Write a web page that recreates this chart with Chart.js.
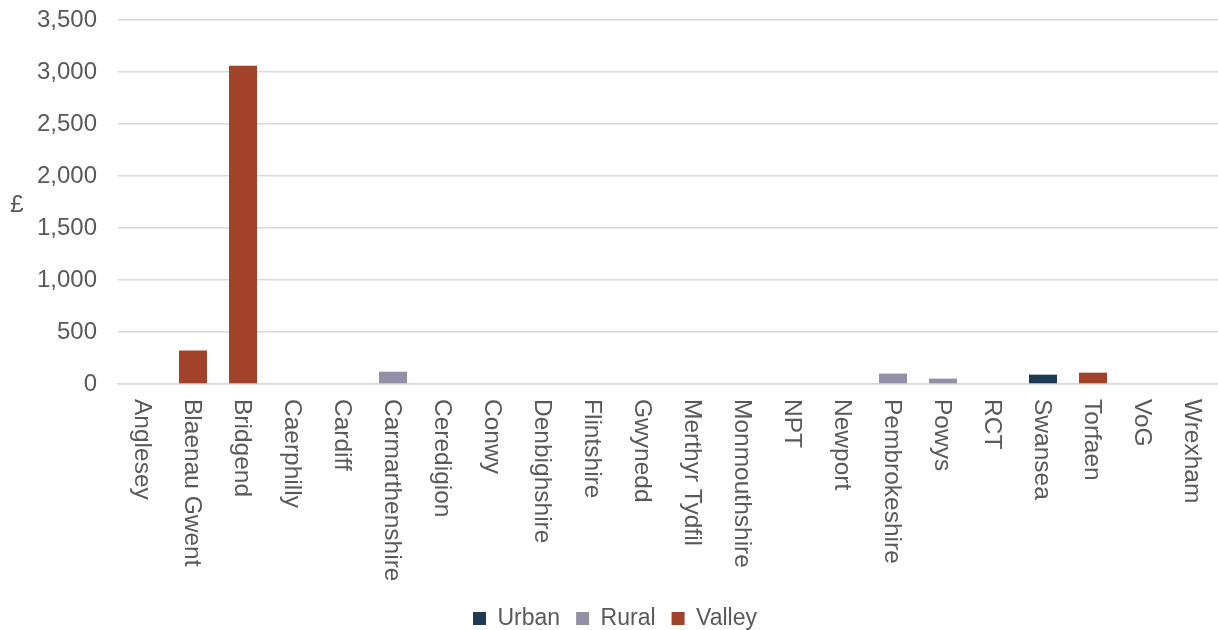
<!DOCTYPE html>
<html>
<head>
<meta charset="utf-8">
<script src="https://cdn.jsdelivr.net/npm/chart.js@4/dist/chart.umd.min.js"></script>
<style>
  html, body { margin: 0; padding: 0; background: #fff; }
  #wrap { width: 1218px; height: 630px; }
</style>
</head>
<body>
<div id="wrap"><canvas id="myChart"></canvas></div>
<script>
// local authorities (x axis)
const categories = ['Anglesey', 'Blaenau Gwent', 'Bridgend', 'Caerphilly', 'Cardiff', 'Carmarthenshire',
  'Ceredigion', 'Conwy', 'Denbighshire', 'Flintshire', 'Gwynedd', 'Merthyr Tydfil', 'Monmouthshire',
  'NPT', 'Newport', 'Pembrokeshire', 'Powys', 'RCT', 'Swansea', 'Torfaen', 'VoG', 'Wrexham'];

// values in £, one series per area type (null where the authority is not in that group)
const urban = [null, null, null, null, null, null, null, null, null, null, null, null, null,
  null, null, null, null, null, 90, null, null, null];
const rural = [null, null, null, null, null, 118, null, null, null, null, null, null, null,
  null, null, 100, 52, null, null, null, null, null];
const valley = [null, 322, 3060, null, null, null, null, null, null, null, null, null, null,
  null, null, null, null, null, null, 109, null, null];

const yTicks = [0, 500, 1000, 1500, 2000, 2500, 3000, 3500];

const textColor = '#595959';
const gridColor = '#d9d9d9';
const fontFamily = '"Liberation Sans", Arial, sans-serif';

// x labels read top-to-bottom in the original, so draw them ourselves
const xLabelsPlugin = {
  id: 'xLabels',
  afterDraw(chart) {
    const { ctx, scales: { x }, chartArea } = chart;
    ctx.save();
    ctx.fillStyle = textColor;
    ctx.font = '24.5px ' + fontFamily;
    ctx.textAlign = 'left';
    ctx.textBaseline = 'middle';
    categories.forEach((label, i) => {
      ctx.save();
      ctx.translate(x.getPixelForTick(i) - 1, chartArea.bottom + 15);
      ctx.rotate(Math.PI / 2);
      ctx.fillText(label, 0, 0);
      ctx.restore();
    });
    // upright "£" axis title
    ctx.font = '24px ' + fontFamily;
    ctx.textAlign = 'center';
    ctx.fillText('£', 17, (chartArea.top + chartArea.bottom) / 2 + 3);
    ctx.restore();
  }
};

const ctx = document.getElementById('myChart').getContext('2d');
const myChart = new Chart(ctx, {
  type: 'bar',
  data: {
    labels: categories,
    datasets: [
      { label: 'Urban', data: urban, backgroundColor: '#1f3a54' },
      { label: 'Rural', data: rural, backgroundColor: '#938fa6' },
      { label: 'Valley', data: valley, backgroundColor: '#a0432a' }
    ]
  },
  options: {
    responsive: true,
    maintainAspectRatio: false,
    animation: false,
    layout: { padding: { left: 12, right: 0, top: 20, bottom: -10 } },
    datasets: {
      bar: { grouped: false, categoryPercentage: 1, barPercentage: 0.56 }
    },
    scales: {
      x: {
        grid: { display: false },
        border: { color: gridColor, width: 1.5 },
        ticks: { display: false },
        afterFit: axis => {
          axis.height = 207;
          axis.paddingLeft = 0;
          axis.paddingRight = 0;
        }
      },
      y: {
        min: 0,
        max: 3500,
        afterBuildTicks: axis => { axis.ticks = yTicks.map(v => ({ value: v })); },
        grid: { color: gridColor, lineWidth: 1.5, drawTicks: false },
        border: { display: false },
        ticks: {
          color: textColor,
          font: { family: fontFamily, size: 24 },
          padding: 21,
          callback: v => v.toLocaleString('en-GB')
        },
        afterFit: axis => {
          axis.width = 106;
          axis.paddingTop = 0;
          axis.paddingBottom = 0;
        }
      }
    },
    plugins: {
      legend: {
        position: 'bottom',
        labels: {
          color: textColor,
          font: { family: fontFamily, size: 23 },
          boxWidth: 13,
          boxHeight: 13,
          padding: 16
        }
      },
      tooltip: { enabled: false }
    }
  },
  plugins: [xLabelsPlugin]
});
</script>
</body>
</html>
